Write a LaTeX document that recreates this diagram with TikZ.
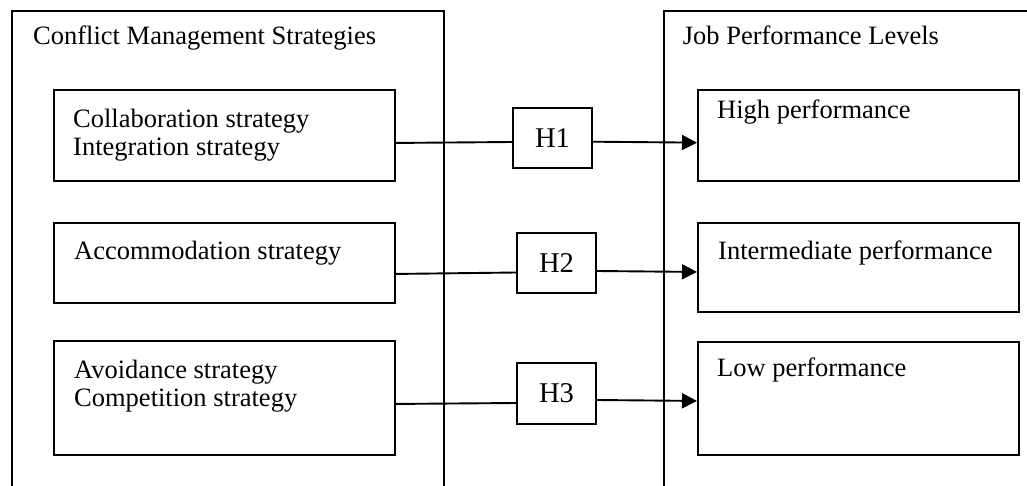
\documentclass[tikz,border=0pt]{standalone}
\usepackage{fontspec}
\setmainfont{Liberation Serif}
\usetikzlibrary{arrows.meta}

\begin{document}
\begin{tikzpicture}[x=1pt,y=-1pt,
  frame/.style={draw,line width=1.9pt,anchor=north west,inner sep=0pt},
  txt/.style={anchor=base west,inner sep=0pt,align=left,font=\fontsize{26.5}{28}\selectfont},
  hyp/.style={draw,line width=1.9pt,inner sep=0pt,minimum width=79pt,minimum height=60pt,font=\fontsize{28.6}{28.6}\selectfont},
  link/.style={line width=1.9pt},
  arr/.style={line width=1.9pt,-{Triangle[length=15pt,width=15pt]}}]
\useasboundingbox (0,0) rectangle (1027,486);
% outer frames
\node[frame,minimum width=432pt,minimum height=520pt] (cms) at (11,10) {};
\node[frame,minimum width=420pt,minimum height=520pt] (jpl) at (663,10) {};
\node[txt] (cmst) at (33,45) {Conflict Management Strategies};
\node[txt] (jplt) at (682.7,45) {Job Performance Levels};
% strategies (base of a two-line node is its last line)
\node[frame,minimum width=341pt,minimum height=91pt] (cs1) at (53,89) {};
\node[frame,minimum width=341pt,minimum height=80pt] (cs2) at (53,222) {};
\node[frame,minimum width=341pt,minimum height=114pt] (cs3) at (53,340) {};
\node[txt] (cs1t) at (73,155.7) {Collaboration strategy\\Integration strategy};
\node[txt] (cs2t) at (74,259.3) {Accommodation strategy};
\node[txt] (cs3t) at (74,406) {Avoidance strategy\\Competition strategy};
% performance levels
\node[frame,minimum width=321pt,minimum height=91pt] (jp1) at (697,89) {};
\node[frame,minimum width=321pt,minimum height=89pt] (jp2) at (697,222) {};
\node[frame,minimum width=321pt,minimum height=113pt] (jp3) at (697,341) {};
\node[txt] (jp1t) at (717,118.3) {High performance};
\node[txt] (jp2t) at (718,259.3) {Intermediate performance};
\node[txt] (jp3t) at (717,376.7) {Low performance};
% hypotheses
\node[hyp] (h1) at (552.5,138) {H1};
\node[hyp] (h2) at (556.5,263) {H2};
\node[hyp,minimum height=61pt] (h3) at (556.5,393.5) {H3};
\draw[link] ([yshift=-7.5pt]cs1.east) -- ([yshift=-4pt]h1.west);
\draw[arr] ([yshift=-3.7pt]h1.east) -- ([yshift=-7.2pt]jp1.west);
\draw[link] ([yshift=-11pt]cs2.east) -- ([yshift=-9.5pt]h2.west);
\draw[arr] ([yshift=-8pt]h2.east) -- ([yshift=-4.5pt]jp2.west);
\draw[link] ([yshift=-6pt]cs3.east) -- ([yshift=-9.5pt]h3.west);
\draw[arr] ([yshift=-6.5pt]h3.east) -- ([yshift=-2.5pt]jp3.west);
\end{tikzpicture}
\end{document}
